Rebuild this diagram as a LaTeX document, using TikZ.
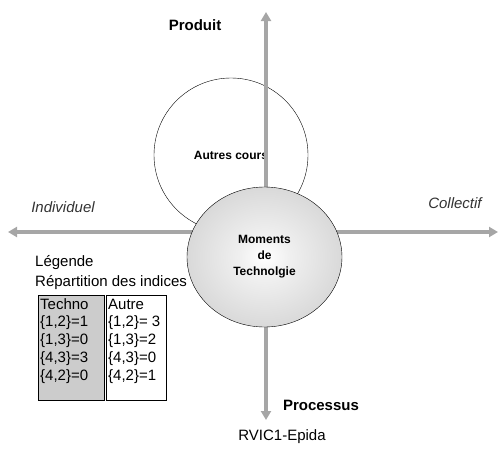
\documentclass[tikz,border=0pt]{standalone}
\usepackage{fontspec}
\setmainfont{Liberation Sans}
\usetikzlibrary{arrows.meta,shapes.geometric}
\pgfdeclareradialshading{moment}{\pgfpoint{0bp}{0bp}}{color(0bp)=(white); color(8bp)=(gray!12); color(30bp)=(gray!35); color(50bp)=(gray!50)}
\tikzset{
  axe/.style={draw=gray!70,line width=4pt,-{Triangle[length=9pt,width=10pt]}},
  titre/.style={font=\fontsize{15}{18}\selectfont\bfseries},
  pole/.style={font=\fontsize{15}{18}\selectfont\itshape,text=black!80},
  texte/.style={font=\fontsize{15}{18}\selectfont,inner sep=0pt},
  cellule/.style={texte,anchor=west},
}
\begin{document}
\begin{tikzpicture}[x=1pt,y=-1pt]
    \useasboundingbox (0,0) rectangle (498,450);
    \node[circle,draw,fill=white,minimum size=154pt,inner sep=0pt,
      font=\fontsize{12}{14}\selectfont\bfseries] (autres) at (231,155) {Autres cours};
    \coordinate (centre) at (266,232);
    \coordinate (haut) at (266,12);
    \coordinate (bas) at (266,420);
    \coordinate (gauche) at (8,232);
    \coordinate (droite) at (498,232);
    \draw[axe] (centre) -- (haut);
    \draw[axe] (centre) -- (bas);
    \draw[axe] (centre) -- (gauche);
    \draw[axe] (centre) -- (droite);
    \node[cellule] (legende) at (35,263) {Légende};
    \node[cellule] (repartition) at (35,283) {Répartition des indices};
    \filldraw[fill=gray!40] (38,295) rectangle (104,400);
    \draw (106,295) rectangle (166,400);
    \foreach \g/\d [count=\i from 0] in {Techno/Autre,{\{1,2\}=1}/{\{1,2\}= 3},{\{1,3\}=0}/{\{1,3\}=2},{\{4,3\}=3}/{\{4,3\}=0},{\{4,2\}=0}/{\{4,2\}=1}}
      {
      \node[cellule] (techno\i) at (40,304.5+18.1*\i) {\g};
      \node[cellule] (autre\i) at (108,304.5+18.1*\i) {\d};
      }
    \node[ellipse,draw,minimum width=155pt,minimum height=140pt,inner sep=0pt,
      shading=moment,align=center,
      font=\fontsize{12}{16}\selectfont\bfseries] (moments) at (264.5,257) {Moments\\de\\Technolgie};
    \node[titre] (produit) at (195,25) {Produit};
    \node[titre] (processus) at (321,405) {Processus};
    \node[pole] (individuel) at (63,207) {Individuel};
    \node[pole] (collectif) at (455,203) {Collectif};
    \node[texte] (source) at (282,437) {RVIC1-Epida};
  \end{tikzpicture}
\end{document}
